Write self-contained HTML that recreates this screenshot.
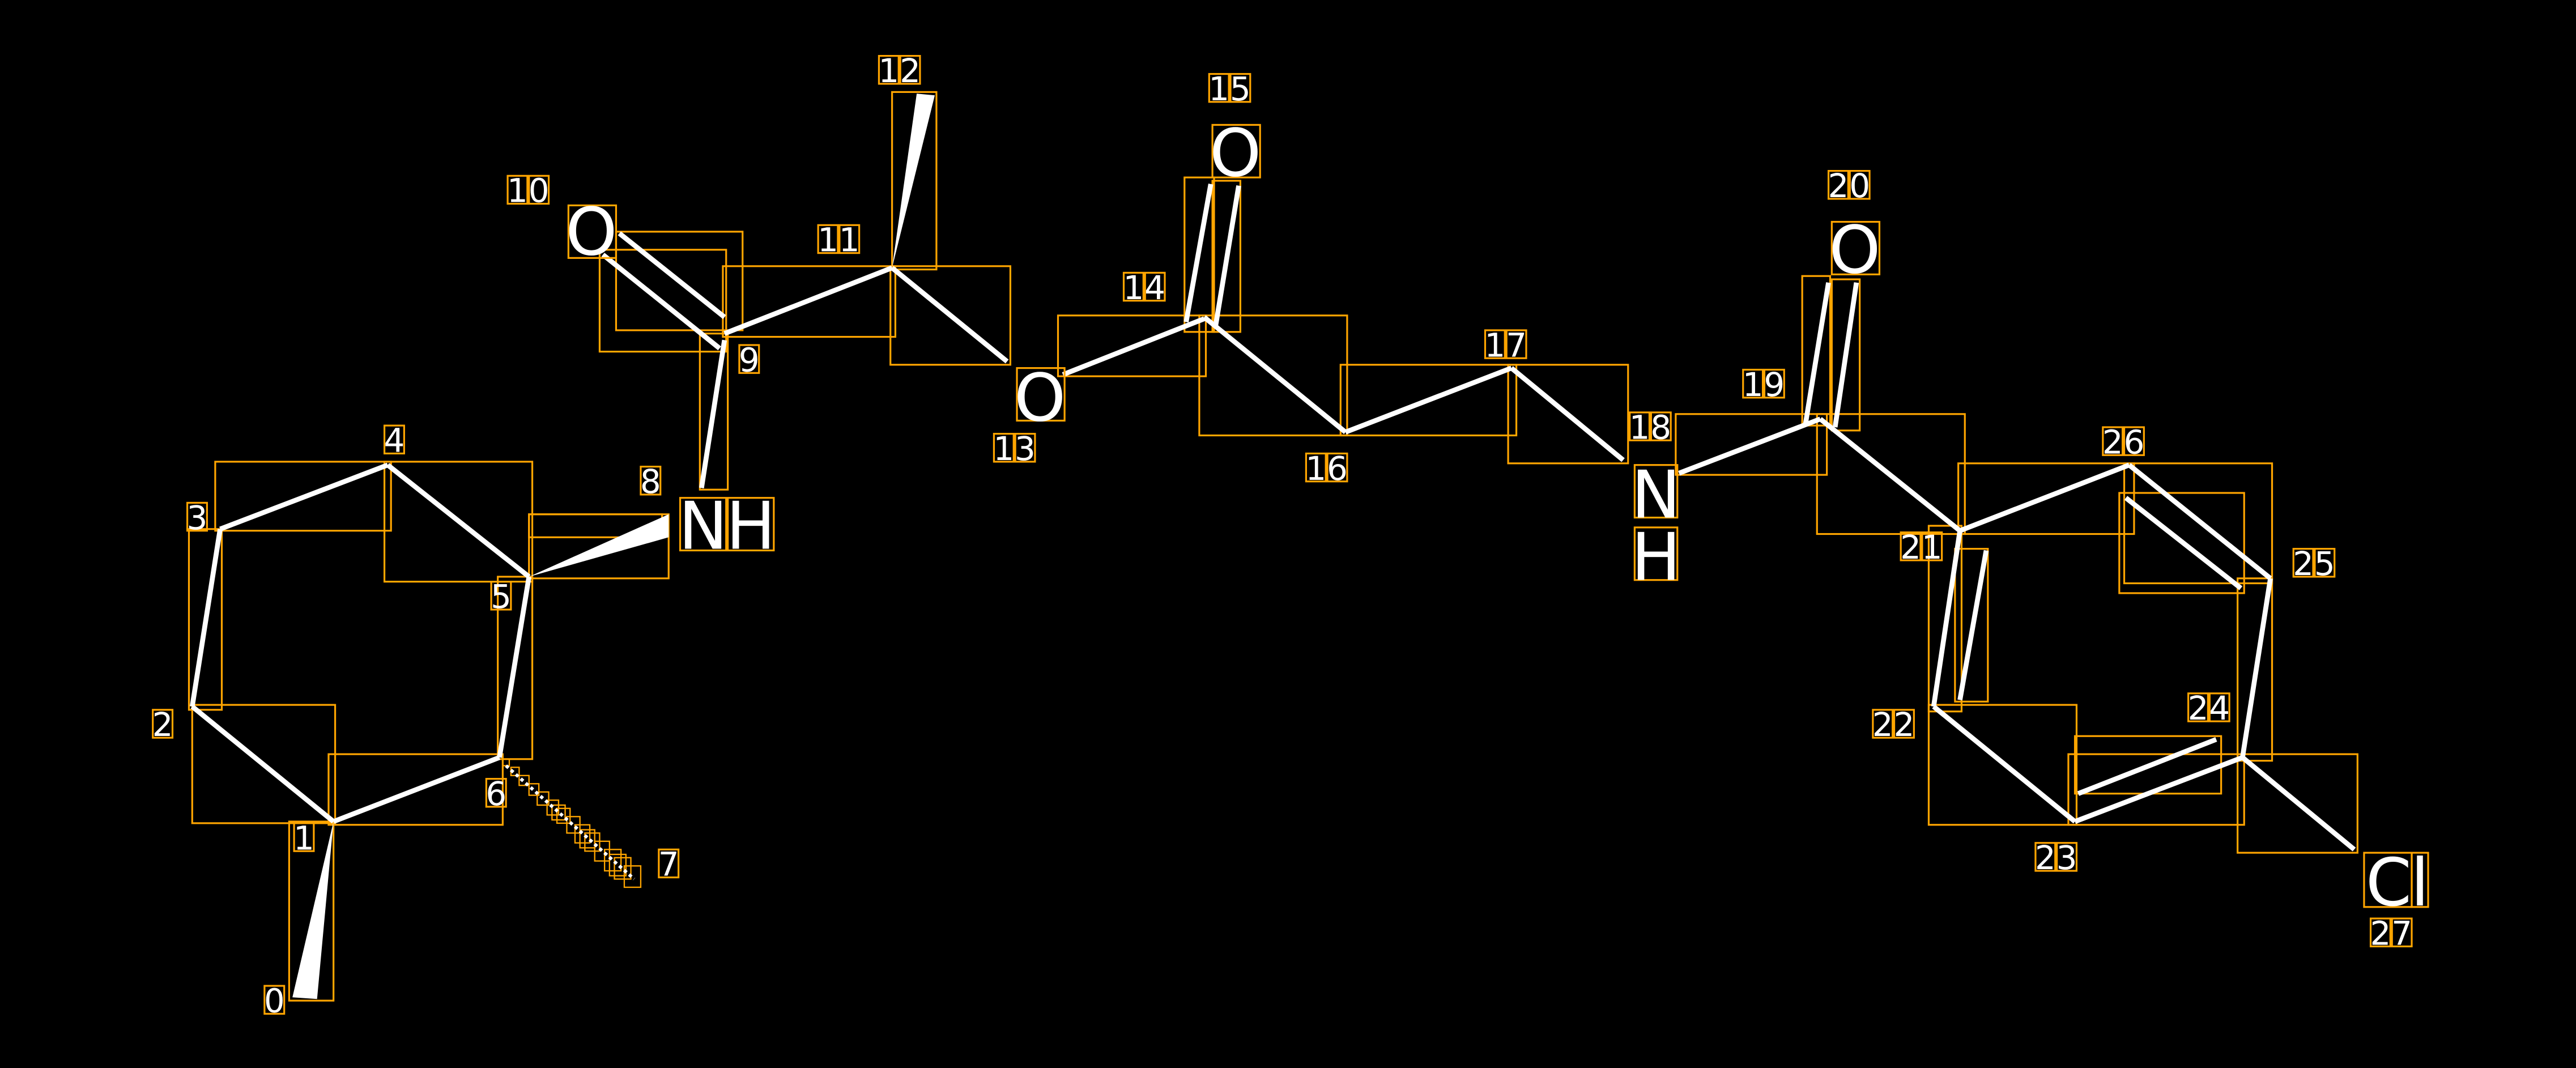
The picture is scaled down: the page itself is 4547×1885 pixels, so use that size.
<!DOCTYPE html>
<html><head><meta charset="utf-8"><style>
html,body{margin:0;padding:0;background:#000;}
svg{display:block;}
.b{stroke:#fff;stroke-width:3;stroke-linecap:butt;}
.r{fill:none;stroke:#FFA500;stroke-width:1.1;}
.d{fill:#fff;font-family:"DejaVu Sans","Liberation Sans",sans-serif;font-size:20px;text-anchor:middle;}
.a{fill:#fff;font-family:"DejaVu Sans","Liberation Sans",sans-serif;font-size:40px;text-anchor:middle;}
</style></head><body>
<svg width="4547" height="1885" viewBox="0 0 1568 650" preserveAspectRatio="none" xmlns="http://www.w3.org/2000/svg">
<rect width="1568" height="650" fill="#000"/>
<g class="r">
<rect x="176" y="500" width="27" height="109"/>
<rect x="117" y="429" width="87" height="72"/>
<rect x="115" y="322" width="20" height="110"/>
<rect x="131" y="281" width="107" height="42"/>
<rect x="234" y="281" width="90" height="73"/>
<rect x="303" y="351" width="21" height="111"/>
<rect x="200" y="459" width="106" height="43"/>
<rect x="322" y="313" width="85" height="39"/>
<rect x="322" y="313" width="81" height="14"/>
<rect x="426" y="203" width="17" height="95"/>
<rect x="375" y="141" width="77" height="60"/>
<rect x="365" y="152" width="77" height="62"/>
<rect x="440" y="162" width="105" height="43"/>
<rect x="543" y="56" width="27" height="108"/>
<rect x="542" y="162" width="73" height="60"/>
<rect x="644" y="192" width="90" height="37"/>
<rect x="721" y="108" width="18" height="94"/>
<rect x="738" y="110" width="17" height="92"/>
<rect x="730" y="192" width="90" height="73"/>
<rect x="816" y="222" width="107" height="43"/>
<rect x="918" y="222" width="73" height="60"/>
<rect x="1020" y="252" width="92" height="37"/>
<rect x="1097" y="168" width="17" height="91"/>
<rect x="1115" y="170" width="17" height="92"/>
<rect x="1106" y="252" width="90" height="73"/>
<rect x="1192" y="282" width="107" height="43"/>
<rect x="1293" y="282" width="90" height="73"/>
<rect x="1290" y="300" width="76" height="61"/>
<rect x="1362" y="352" width="21" height="111"/>
<rect x="1362" y="459" width="73" height="60"/>
<rect x="1259" y="459" width="107" height="43"/>
<rect x="1263" y="448" width="89" height="35"/>
<rect x="1174" y="429" width="90" height="73"/>
<rect x="1174" y="320" width="20" height="113"/>
<rect x="1190" y="334" width="20" height="93"/>
</g>
<g class="b">
<line x1="117" y1="430" x2="203" y2="500"/>
<line x1="117" y1="430" x2="134" y2="322"/>
<line x1="134" y1="322" x2="236" y2="283"/>
<line x1="236" y1="283" x2="322" y2="351"/>
<line x1="322" y1="351" x2="304" y2="461"/>
<line x1="304" y1="461" x2="203" y2="500"/>
<line x1="427" y1="297" x2="441" y2="207"/>
<line x1="377" y1="142" x2="441" y2="193"/>
<line x1="367" y1="155" x2="438" y2="212"/>
<line x1="441" y1="203" x2="543" y2="163"/>
<line x1="543" y1="163" x2="613" y2="220"/>
<line x1="647" y1="228" x2="733" y2="194"/>
<line x1="722" y1="196" x2="737" y2="112"/>
<line x1="740" y1="198" x2="754" y2="113"/>
<line x1="733" y1="193" x2="819" y2="263"/>
<line x1="819" y1="263" x2="920" y2="224"/>
<line x1="920" y1="224" x2="988" y2="280"/>
<line x1="1022" y1="288" x2="1108" y2="255"/>
<line x1="1099" y1="258" x2="1113" y2="172"/>
<line x1="1117" y1="260" x2="1130" y2="172"/>
<line x1="1108" y1="255" x2="1193" y2="323"/>
<line x1="1193" y1="323" x2="1296" y2="283"/>
<line x1="1296" y1="283" x2="1382" y2="352"/>
<line x1="1294" y1="303" x2="1364" y2="358"/>
<line x1="1382" y1="352" x2="1365" y2="461"/>
<line x1="1365" y1="461" x2="1433" y2="517"/>
<line x1="1365" y1="461" x2="1263" y2="500"/>
<line x1="1265" y1="483" x2="1349" y2="450"/>
<line x1="1263" y1="500" x2="1177" y2="430"/>
<line x1="1177" y1="430" x2="1193" y2="323"/>
<line x1="1193" y1="426" x2="1209" y2="335"/>
</g>
<polygon points="203,500 178,607 193,608" fill="#fff"/>
<polygon points="322,351 407,313 407,327" fill="#fff"/>
<polygon points="543,163 558,57 569,58" fill="#fff"/>
<g stroke="#FFA500" stroke-width="0.8" fill="none">
<rect x="306" y="462" width="4" height="4"/><rect x="311" y="467" width="5" height="5"/><rect x="316" y="472" width="6" height="6"/>
<rect x="322" y="477" width="6" height="7"/><rect x="327" y="482" width="7" height="8"/><rect x="333" y="487" width="7" height="9"/>
<rect x="339" y="492" width="8" height="9"/><rect x="345" y="497" width="8" height="10"/><rect x="350" y="502" width="9" height="11"/>
<rect x="356" y="507" width="9" height="11"/><rect x="362" y="512" width="9" height="12"/><rect x="368" y="517" width="10" height="13"/>
<rect x="374" y="522" width="10" height="13"/><rect x="380" y="527" width="10" height="13"/>
<rect x="336" y="490" width="8" height="9"/><rect x="353" y="505" width="9" height="11"/><rect x="371" y="520" width="10" height="13"/>
</g>
<g stroke="#fff" stroke-width="2">
<line x1="308" y1="466" x2="386" y2="535" stroke-dasharray="2 2"/>
</g>
<g class="r">
<rect x="346" y="125" width="29" height="32"/>
<rect x="414" y="303" width="28" height="32"/><rect x="443" y="303" width="28" height="32"/>
<rect x="619" y="224" width="29" height="32"/>
<rect x="738" y="76" width="29" height="32"/>
<rect x="995" y="283" width="26" height="32"/><rect x="995" y="321" width="26" height="32"/>
<rect x="1115" y="135" width="29" height="32"/>
<rect x="1439" y="519" width="29" height="33"/><rect x="1468" y="519" width="10" height="33"/>
</g>
<text class="a" x="360" y="155">O</text>
<text class="a" x="428" y="334">N</text>
<text class="a" x="457" y="334">H</text>
<text class="a" x="633" y="256">O</text>
<text class="a" x="752" y="107">O</text>
<text class="a" x="1008" y="315">N</text>
<text class="a" x="1008" y="353">H</text>
<text class="a" x="1129" y="166">O</text>
<text class="a" x="1454" y="551">C</text>
<text class="a" x="1473" y="551">l</text>
<g class="r">
<rect x="161" y="600" width="12" height="17"/>
<rect x="179" y="501" width="12" height="17"/>
<rect x="93" y="432" width="12" height="17"/>
<rect x="114" y="306" width="12" height="17"/>
<rect x="234" y="259" width="12" height="17"/>
<rect x="299" y="354" width="12" height="17"/>
<rect x="296" y="474" width="12" height="17"/>
<rect x="401" y="517" width="12" height="17"/>
<rect x="390" y="284" width="12" height="17"/>
<rect x="450" y="210" width="12" height="17"/>
<rect x="309" y="107" width="12" height="17"/><rect x="322" y="107" width="12" height="17"/>
<rect x="498" y="137" width="12" height="17"/><rect x="511" y="137" width="12" height="17"/>
<rect x="535" y="34" width="12" height="17"/><rect x="548" y="34" width="12" height="17"/>
<rect x="605" y="264" width="12" height="17"/><rect x="618" y="264" width="12" height="17"/>
<rect x="684" y="166" width="12" height="17"/><rect x="697" y="166" width="12" height="17"/>
<rect x="736" y="45" width="12" height="17"/><rect x="749" y="45" width="12" height="17"/>
<rect x="795" y="276" width="12" height="17"/><rect x="808" y="276" width="12" height="17"/>
<rect x="904" y="201" width="12" height="17"/><rect x="917" y="201" width="12" height="17"/>
<rect x="992" y="251" width="12" height="17"/><rect x="1005" y="251" width="12" height="17"/>
<rect x="1061" y="225" width="12" height="17"/><rect x="1074" y="225" width="12" height="17"/>
<rect x="1113" y="104" width="12" height="17"/><rect x="1126" y="104" width="12" height="17"/>
<rect x="1157" y="324" width="12" height="17"/><rect x="1170" y="324" width="12" height="17"/>
<rect x="1140" y="432" width="12" height="17"/><rect x="1153" y="432" width="12" height="17"/>
<rect x="1239" y="513" width="12" height="17"/><rect x="1252" y="513" width="12" height="17"/>
<rect x="1332" y="422" width="12" height="17"/><rect x="1345" y="422" width="12" height="17"/>
<rect x="1396" y="334" width="12" height="17"/><rect x="1409" y="334" width="12" height="17"/>
<rect x="1280" y="260" width="12" height="17"/><rect x="1293" y="260" width="12" height="17"/>
<rect x="1443" y="559" width="12" height="17"/><rect x="1456" y="559" width="12" height="17"/>
</g>
<g class="d">
<text x="167" y="616">0</text>
<text x="185" y="517">1</text>
<text x="99" y="448">2</text>
<text x="120" y="322">3</text>
<text x="240" y="275">4</text>
<text x="305" y="370">5</text>
<text x="302" y="490">6</text>
<text x="407" y="533">7</text>
<text x="396" y="300">8</text>
<text x="456" y="226">9</text>
<text x="315" y="123">1</text><text x="328" y="123">0</text>
<text x="504" y="153">1</text><text x="517" y="153">1</text>
<text x="541" y="50">1</text><text x="554" y="50">2</text>
<text x="611" y="280">1</text><text x="624" y="280">3</text>
<text x="690" y="182">1</text><text x="703" y="182">4</text>
<text x="742" y="61">1</text><text x="755" y="61">5</text>
<text x="801" y="292">1</text><text x="814" y="292">6</text>
<text x="910" y="217">1</text><text x="923" y="217">7</text>
<text x="998" y="267">1</text><text x="1011" y="267">8</text>
<text x="1067" y="241">1</text><text x="1080" y="241">9</text>
<text x="1119" y="120">2</text><text x="1132" y="120">0</text>
<text x="1163" y="340">2</text><text x="1176" y="340">1</text>
<text x="1146" y="448">2</text><text x="1159" y="448">2</text>
<text x="1245" y="529">2</text><text x="1258" y="529">3</text>
<text x="1338" y="438">2</text><text x="1351" y="438">4</text>
<text x="1402" y="350">2</text><text x="1415" y="350">5</text>
<text x="1286" y="276">2</text><text x="1299" y="276">6</text>
<text x="1449" y="575">2</text><text x="1462" y="575">7</text>
</g>
</svg>
</body></html>
